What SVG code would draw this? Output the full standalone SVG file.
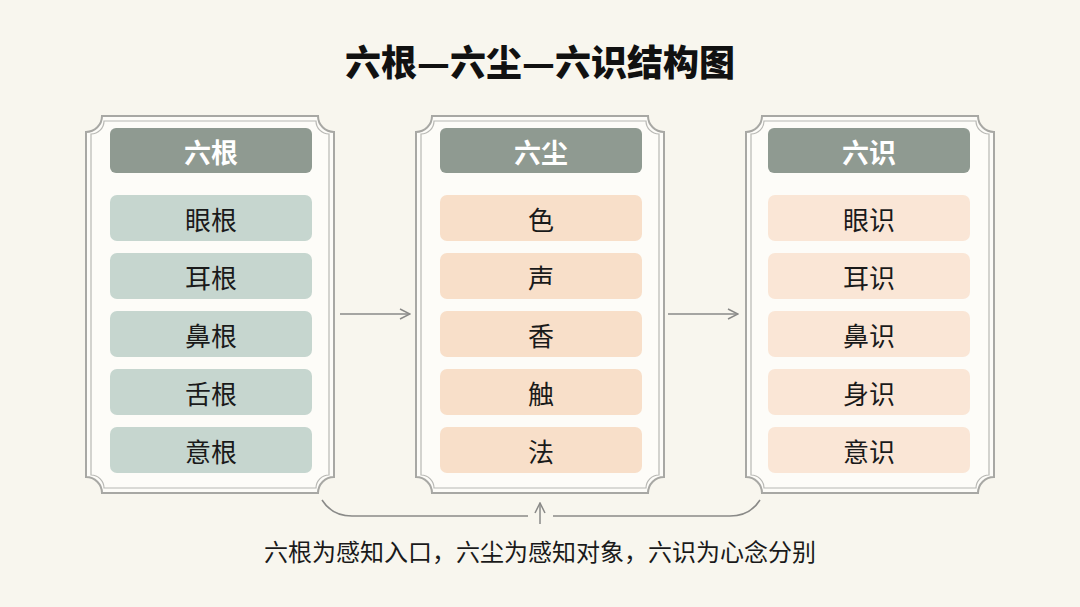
<svg xmlns="http://www.w3.org/2000/svg" width="1080" height="607" viewBox="0 0 1080 607">
<defs>
<style>
.frame{fill:#fdfcf8;stroke:#a8a8a4;stroke-width:2}
.inner{fill:none;stroke:#b8b8b4;stroke-width:1.2}
.hd{fill:#8f9a91}
.hdt{font-family:"Noto Sans CJK SC",sans-serif;font-weight:700;font-size:27px;fill:#ffffff;text-anchor:middle;dominant-baseline:central}
.it{font-family:"Noto Sans CJK SC",sans-serif;font-size:26px;fill:#1a1a1a;text-anchor:middle;dominant-baseline:central}
.g{fill:#c6d6cf}.o{fill:#f8dfc9}.p{fill:#fae6d6}
.ln{fill:none;stroke:#8a8a88;stroke-width:1.5}
</style>
<marker id="ah" viewBox="0 0 12 12" refX="11" refY="6" markerWidth="12" markerHeight="12" markerUnits="userSpaceOnUse" orient="auto"><path d="M1,1 L11,6 L1,11" fill="none" stroke="#8a8a88" stroke-width="1.5"/></marker>
<path id="fr" d="M16,0 H232 A16 16 0 0 0 248,16 V361 A16 16 0 0 0 232,377 H16 A16 16 0 0 0 0,361 V16 A16 16 0 0 0 16,0 Z"/>
<path id="fi" d="M18,5 H230 A13 13 0 0 0 243,18 V359 A13 13 0 0 0 230,372 H18 A13 13 0 0 0 5,359 V18 A13 13 0 0 0 18,5 Z"/>
</defs>
<rect width="1080" height="607" fill="#f8f6ee"/>
<text x="540" y="60" font-family="Noto Sans CJK SC,sans-serif" font-weight="900" font-size="36" fill="#111" text-anchor="middle" dominant-baseline="central">六根—六尘—六识结构图</text>

<g id="panel-gen" transform="translate(86,116)">
<use href="#fr" class="frame"/><use href="#fi" class="inner"/>
<rect x="24" y="12" width="202" height="45" rx="6" class="hd"/><text x="125" y="35" class="hdt">六根</text>
<rect x="24" y="79" width="202" height="46" rx="7" class="g"/><text x="125" y="102" class="it">眼根</text>
<rect x="24" y="137" width="202" height="46" rx="7" class="g"/><text x="125" y="160" class="it">耳根</text>
<rect x="24" y="195" width="202" height="46" rx="7" class="g"/><text x="125" y="218" class="it">鼻根</text>
<rect x="24" y="253" width="202" height="46" rx="7" class="g"/><text x="125" y="276" class="it">舌根</text>
<rect x="24" y="311" width="202" height="46" rx="7" class="g"/><text x="125" y="334" class="it">意根</text>
</g>
<g id="panel-chen" transform="translate(416,116)">
<use href="#fr" class="frame"/><use href="#fi" class="inner"/>
<rect x="24" y="12" width="202" height="45" rx="6" class="hd"/><text x="125" y="35" class="hdt">六尘</text>
<rect x="24" y="79" width="202" height="46" rx="7" class="o"/><text x="125" y="102" class="it">色</text>
<rect x="24" y="137" width="202" height="46" rx="7" class="o"/><text x="125" y="160" class="it">声</text>
<rect x="24" y="195" width="202" height="46" rx="7" class="o"/><text x="125" y="218" class="it">香</text>
<rect x="24" y="253" width="202" height="46" rx="7" class="o"/><text x="125" y="276" class="it">触</text>
<rect x="24" y="311" width="202" height="46" rx="7" class="o"/><text x="125" y="334" class="it">法</text>
</g>
<g id="panel-shi" transform="translate(746,116)">
<use href="#fr" class="frame"/><use href="#fi" class="inner"/>
<rect x="22" y="12" width="202" height="45" rx="6" class="hd"/><text x="123" y="35" class="hdt">六识</text>
<rect x="22" y="79" width="202" height="46" rx="7" class="p"/><text x="123" y="102" class="it">眼识</text>
<rect x="22" y="137" width="202" height="46" rx="7" class="p"/><text x="123" y="160" class="it">耳识</text>
<rect x="22" y="195" width="202" height="46" rx="7" class="p"/><text x="123" y="218" class="it">鼻识</text>
<rect x="22" y="253" width="202" height="46" rx="7" class="p"/><text x="123" y="276" class="it">身识</text>
<rect x="22" y="311" width="202" height="46" rx="7" class="p"/><text x="123" y="334" class="it">意识</text>
</g>

<g id="connectors">
<line x1="340" y1="314" x2="410" y2="314" class="ln" marker-end="url(#ah)"/>
<line x1="668" y1="314" x2="738" y2="314" class="ln" marker-end="url(#ah)"/>
<path d="M322,500 Q332,516 352,516 H528" class="ln"/>
<path d="M553,516 H730 Q750,516 760,500" class="ln"/>
<line x1="540" y1="524" x2="540" y2="503" class="ln" marker-end="url(#ah)"/>
</g>
<text x="540" y="550" font-family="Noto Sans CJK SC,sans-serif" font-size="24" fill="#1a1a1a" text-anchor="middle" dominant-baseline="central">六根为感知入口，六尘为感知对象，六识为心念分别</text>
</svg>
